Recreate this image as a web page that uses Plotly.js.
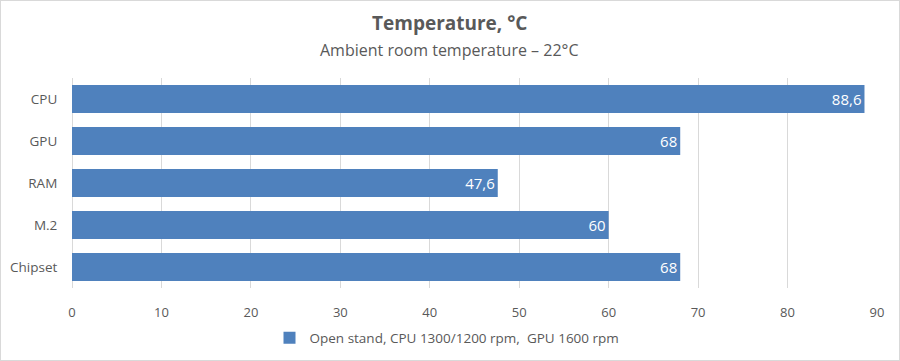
<!DOCTYPE html>
<html>
<head>
<meta charset="utf-8">
<script src="https://cdn.plot.ly/plotly-3.0.1.min.js"></script>
<style>
html,body{margin:0;padding:0;background:#fff;}
#chart{width:898px;height:359px;border:1px solid #d9d9d9;}
</style>
</head>
<body>
<div id="chart"></div>
<script>
const categories = ["CPU", "GPU", "RAM", "M.2", "Chipset"];
const values = [88.6, 68, 47.6, 60, 68];
const seriesName = "Open stand, CPU 1300/1200 rpm,  GPU 1600 rpm";
const xTicks = [0, 10, 20, 30, 40, 50, 60, 70, 80, 90];

const labels = values.map(v => String(v).replace('.', ','));
const font = "Open Sans, Liberation Sans, sans-serif";
const plotH = 359 - 77 - 72;
const plotW = 898 - 71 - 22;
const cx = (449 - 72) / plotW;

Plotly.newPlot('chart', [{
  type: 'bar',
  orientation: 'h',
  x: values,
  y: categories,
  name: seriesName,
  text: labels,
  textposition: 'inside',
  insidetextanchor: 'end',
  textangle: 0,
  constraintext: 'none',
  textfont: {color: '#ffffff', size: 15, family: font},
  marker: {color: '#4f81bd'},
  hoverinfo: 'x+y'
}], {
  width: 898, height: 359,
  margin: {l: 71, r: 22, t: 77, b: 72, autoexpand: false},
  paper_bgcolor: '#ffffff', plot_bgcolor: '#ffffff',
  bargap: 0.333,
  showlegend: true,
  legend: {orientation: 'h', xref: 'container', x: 446 / 898, xanchor: 'center',
           yref: 'container', y: 1 - 337 / 359, yanchor: 'middle',
           itemwidth: 30,
           font: {family: font, size: 13.5, color: '#595959'}},
  xaxis: {range: [0, 90], tickvals: xTicks, ticktext: xTicks.map(String),
          showgrid: true, gridcolor: '#d9d9d9', zeroline: true, zerolinecolor: '#d9d9d9',
          showline: false, ticks: 'outside', ticklen: 12, tickcolor: 'rgba(0,0,0,0)',
          tickfont: {family: font, size: 13, color: '#595959'}, fixedrange: true},
  yaxis: {autorange: 'reversed', showgrid: false, zeroline: false, showline: false,
          ticks: 'outside', ticklen: 11, tickcolor: 'rgba(0,0,0,0)',
          tickfont: {family: font, size: 13.5, color: '#595959'}, fixedrange: true},
  annotations: [
    {text: '<b>Temperature, °C</b>', xref: 'paper', yref: 'paper', x: cx, y: 1 + (77 - 22) / plotH,
     xanchor: 'center', yanchor: 'middle', showarrow: false,
     font: {family: font, size: 19, color: '#595959'}},
    {text: 'Ambient room temperature – 22°C', xref: 'paper', yref: 'paper', x: cx, y: 1 + (77 - 49) / plotH,
     xanchor: 'center', yanchor: 'middle', showarrow: false,
     font: {family: font, size: 16, color: '#595959'}}
  ]
}, {displayModeBar: false});
</script>
</body>
</html>
